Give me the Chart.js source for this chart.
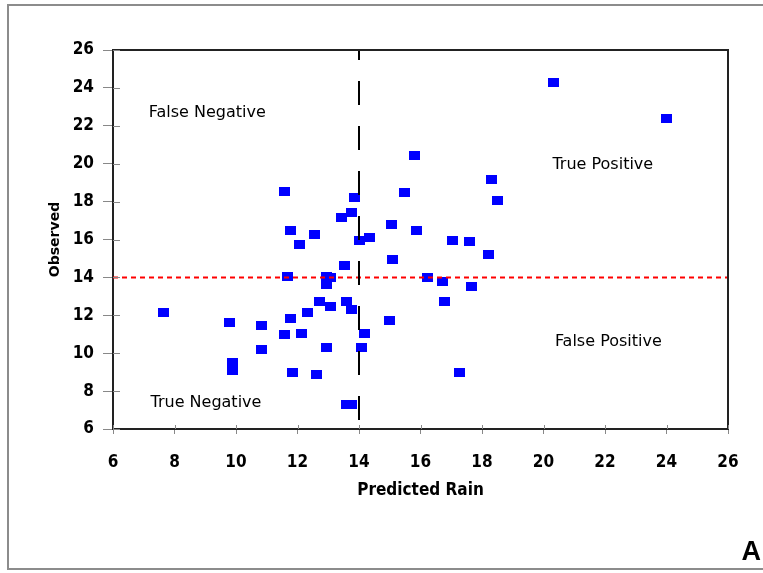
<!DOCTYPE html>
<html>
<head>
<meta charset="utf-8">
<script src="https://cdn.jsdelivr.net/npm/chart.js@4"></script>
<style>
  body { margin: 0; background: #fff; }
  #wrap { position: relative; width: 763px; height: 573px; overflow: hidden; }
  #frame { position: absolute; left: 7px; top: 4px; width: 830px; height: 562px;
           border: 2px solid #8c8c8c; pointer-events: none; }
  #tag { position: absolute; right: 2px; bottom: 6px; font: bold 27px "Liberation Sans", Arial, sans-serif; color: #000; }
</style>
</head>
<body>
<div id="wrap">
  <canvas id="rainChart" width="763" height="573"></canvas>
  <div id="frame"></div>
  <div id="tag">A</div>
</div>
<script>
// values
const predicted = [15.81, 11.58, 13.86, 15.49, 13.43, 13.77, 15.05, 15.87, 11.78, 12.56,
  14.35, 14.02, 20.31, 24.0, 18.31, 18.52, 17.04, 17.6, 18.2, 16.24,
  16.73, 17.65, 16.79, 17.27, 12.07, 15.09, 13.53, 11.69, 12.94, 13.06,
  12.94, 7.63, 9.8, 10.83, 11.78, 12.34, 12.7, 13.08, 13.59, 13.77,
  15.0, 11.58, 12.13, 14.19, 10.83, 12.94, 14.08, 9.9, 9.9, 11.85,
  12.61, 13.59, 13.77];
const observed = [20.41, 18.52, 18.23, 18.47, 17.17, 17.4, 16.77, 16.45, 16.45, 16.24,
  16.12, 15.97, 24.29, 22.36, 19.19, 18.08, 15.97, 15.92, 15.23, 14.0,
  13.81, 13.51, 12.75, 8.99, 15.71, 14.92, 14.62, 14.04, 14.07, 14.0,
  13.65, 12.14, 11.61, 11.45, 11.84, 12.14, 12.72, 12.45, 12.72, 12.33,
  11.71, 11.0, 11.05, 11.05, 10.17, 10.31, 10.31, 9.52, 9.11, 8.97,
  8.9, 7.3, 7.3];
const threshold = 14;
const axisMin = 6;
const axisMax = 26;
const quadrantLabels = [
  { text: 'False Negative', x: 7.16, y: 22.68 },
  { text: 'True Positive', x: 20.29, y: 19.93 },
  { text: 'False Positive', x: 20.37, y: 10.62 },
  { text: 'True Negative', x: 7.22, y: 7.36 }
];

const points = predicted.map((p, i) => ({ x: p, y: observed[i] }));

// little blue rectangle used as marker
const marker = document.createElement('canvas');
marker.width = 11;
marker.height = 9;
const mctx = marker.getContext('2d');
mctx.fillStyle = '#0000ff';
mctx.fillRect(0, 0, 11, 9);

const tickFont = { family: '"DejaVu Sans Condensed", "Liberation Sans", sans-serif', size: 17, weight: 'bold' };

const extras = {
  id: 'extras',
  afterDraw(chart) {
    const { ctx, chartArea: a, scales: { x, y } } = chart;
    ctx.save();
    // top and right frame
    ctx.strokeStyle = '#222';
    ctx.lineWidth = 2;
    ctx.beginPath();
    ctx.moveTo(a.left, a.top);
    ctx.lineTo(a.right, a.top);
    ctx.lineTo(a.right, a.bottom);
    ctx.stroke();
    // inner part of tick marks
    ctx.strokeStyle = '#888';
    ctx.lineWidth = 1;
    ctx.beginPath();
    y.ticks.forEach(t => {
      const py = Math.round(y.getPixelForValue(t.value)) + 0.5;
      ctx.moveTo(a.left, py);
      ctx.lineTo(a.left + 7, py);
    });
    x.ticks.forEach(t => {
      const px = Math.round(x.getPixelForValue(t.value)) + 0.5;
      ctx.moveTo(px, a.bottom);
      ctx.lineTo(px, a.bottom - 4);
    });
    ctx.stroke();
    // quadrant labels
    ctx.fillStyle = '#000';
    ctx.font = '16px "DejaVu Sans", sans-serif';
    ctx.textAlign = 'left';
    ctx.textBaseline = 'middle';
    quadrantLabels.forEach(l => {
      ctx.fillText(l.text, x.getPixelForValue(l.x), y.getPixelForValue(l.y));
    });
    ctx.restore();
  }
};

const ctx = document.getElementById('rainChart').getContext('2d');
const rainChart = new Chart(ctx, {
  type: 'scatter',
  data: {
    datasets: [
      {
        type: 'line',
        data: [{ x: threshold, y: axisMax }, { x: threshold, y: axisMin }],
        borderColor: '#000',
        borderWidth: 2,
        borderDash: [24, 21],
        borderDashOffset: 14,
        pointRadius: 0,
        order: 0
      },
      {
        type: 'line',
        data: [{ x: axisMin, y: threshold }, { x: axisMax, y: threshold }],
        borderColor: '#ff0000',
        borderWidth: 2,
        borderDash: [5, 4],
        pointRadius: 0,
        order: 0
      },
      {
        label: 'Observed',
        data: points,
        pointStyle: marker,
        pointRadius: 5,
        order: 1
      }
    ]
  },
  options: {
    responsive: false,
    animation: false,
    layout: { padding: { left: 0, top: 50, right: 35, bottom: 0 } },
    plugins: { legend: { display: false }, tooltip: { enabled: false } },
    scales: {
      x: {
        type: 'linear',
        min: axisMin,
        max: axisMax,
        afterFit(scale) { scale.height = 144; },
        ticks: { stepSize: 2, color: '#000', font: tickFont, padding: 18, maxRotation: 0 },
        grid: { drawOnChartArea: false, tickLength: 5, color: '#888' },
        border: { color: '#222', width: 2 },
        title: {
          display: true,
          text: 'Predicted Rain',
          color: '#000',
          font: tickFont,
          padding: { top: 0, bottom: 72 }
        }
      },
      y: {
        type: 'linear',
        min: axisMin,
        max: axisMax,
        afterFit(scale) { scale.width = 113; },
        ticks: { stepSize: 2, color: '#000', font: tickFont, padding: 9 },
        grid: { drawOnChartArea: false, tickLength: 10, color: '#888' },
        border: { color: '#222', width: 2 },
        title: {
          display: true,
          text: 'Observed',
          color: '#000',
          font: { family: '"DejaVu Sans", sans-serif', size: 14, weight: 'bold' },
          padding: { top: 47, bottom: 0 }
        }
      }
    }
  },
  plugins: [extras]
});
</script>
</body>
</html>
